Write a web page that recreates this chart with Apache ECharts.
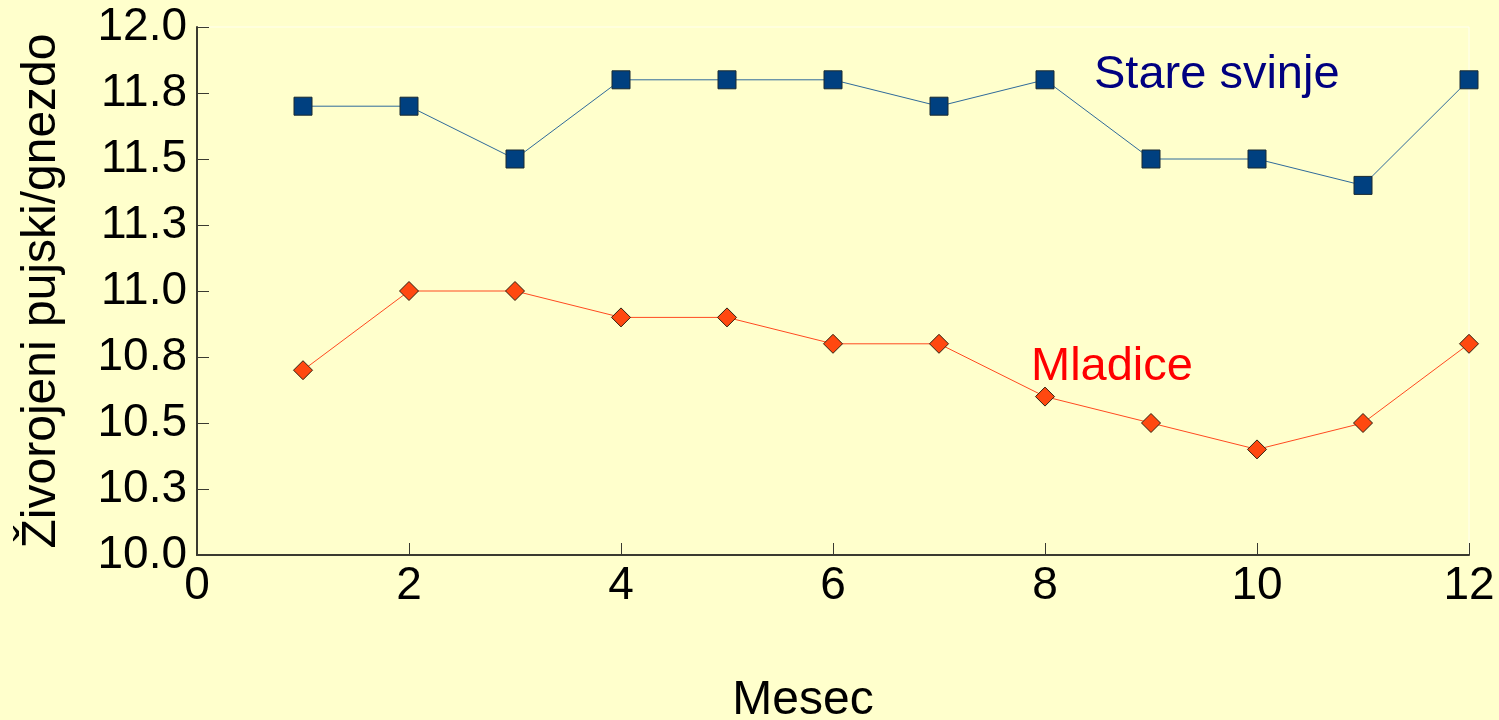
<!DOCTYPE html>
<html>
<head>
<meta charset="utf-8">
<script src="https://cdn.jsdelivr.net/npm/echarts@6/dist/echarts.min.js"></script>
<style>
  html, body { margin: 0; padding: 0; background: #ffffcc; }
  #chart { width: 1499px; height: 720px; }
</style>
</head>
<body>
<div id="chart"></div>
<script>
// mesec (x) in vrednosti obeh serij
const months = [1, 2, 3, 4, 5, 6, 7, 8, 9, 10, 11, 12];
const stareSvinje = [11.7, 11.7, 11.5, 11.8, 11.8, 11.8, 11.7, 11.8, 11.5, 11.5, 11.4, 11.8];
const mladice = [10.7, 11.0, 11.0, 10.9, 10.9, 10.8, 10.8, 10.6, 10.5, 10.4, 10.5, 10.8];

const font = "'Liberation Sans', Arial, sans-serif";

const chart = echarts.init(document.getElementById('chart'));

const option = {
  backgroundColor: '#ffffcc',
  animation: false,
  grid: {
    left: 197,
    right: 30,
    top: 27,
    bottom: 165,
    outerBoundsMode: 'none',
    show: true,
    borderColor: '#fffff0',
    borderWidth: 1
  },
  xAxis: {
    type: 'value',
    min: 0,
    max: 12,
    interval: 2,
    name: 'Mesec',
    nameLocation: 'middle',
    nameGap: 122,
    nameTextStyle: { fontFamily: font, fontSize: 48, color: '#000', padding: [0, 60, 0, 0] },
    axisLine: { lineStyle: { color: '#3a3a30', width: 2 } },
    axisTick: { inside: true, length: 12, lineStyle: { color: '#3a3a30' } },
    axisLabel: { fontFamily: font, fontSize: 46, color: '#000', margin: 8 },
    splitLine: { show: false }
  },
  yAxis: {
    type: 'value',
    min: 10,
    max: 12,
    interval: 0.25,
    name: 'Živorojeni pujski/gnezdo',
    nameLocation: 'middle',
    nameGap: 131,
    nameRotate: 90,
    nameTextStyle: { fontFamily: font, fontSize: 48, color: '#000' },
    axisLine: { show: true, lineStyle: { color: '#3a3a30', width: 2 } },
    axisTick: { show: true, inside: true, length: 12, lineStyle: { color: '#3a3a30' } },
    axisLabel: {
      fontFamily: font, fontSize: 46, color: '#000', margin: 10,
      formatter: v => v.toFixed(1)
    },
    splitLine: { show: false }
  },
  series: [
    {
      name: 'Stare svinje',
      type: 'line',
      data: months.map((m, i) => [m, stareSvinje[i]]),
      symbol: 'rect',
      symbolSize: 18,
      lineStyle: { color: '#2f6a9a', width: 1 },
      itemStyle: { color: '#004080', borderColor: '#1a2a30', borderWidth: 1 }
    },
    {
      name: 'Mladice',
      type: 'line',
      data: months.map((m, i) => [m, mladice[i]]),
      symbol: 'diamond',
      symbolSize: 19,
      lineStyle: { color: '#ff4a20', width: 1 },
      itemStyle: { color: '#ff4810', borderColor: '#302010', borderWidth: 1 }
    }
  ],
  graphic: [
    {
      type: 'text', left: 1094, top: 52,
      style: { text: 'Stare svinje', font: '47px ' + font, fill: '#000080' }
    },
    {
      type: 'text', left: 1031, top: 344,
      style: { text: 'Mladice', font: '47px ' + font, fill: '#ff0000' }
    }
  ]
};

option && chart.setOption(option);
</script>
</body>
</html>
